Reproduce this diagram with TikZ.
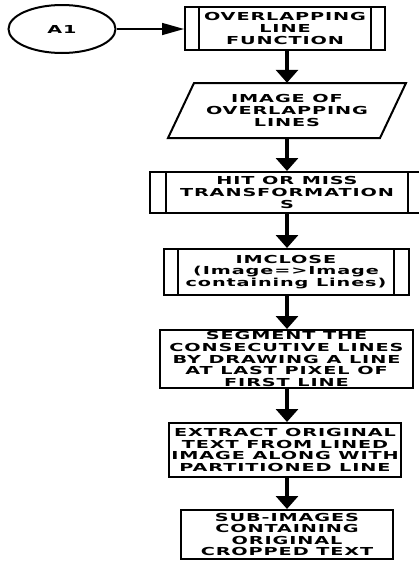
\documentclass[tikz,border=0pt]{standalone}
\usepackage{fontspec}
\newfontfamily\chartfont{DejaVu Sans}[FakeStretch=1.75,LetterSpace=8]
\usetikzlibrary{arrows.meta,shapes.geometric}
\tikzset{
  boxtext/.style={font=\chartfont\bfseries\fontsize{11}{11.6}\selectfont, align=center, inner sep=0pt},
  procbox/.style={boxtext, draw, line width=2pt, rectangle},
  subproc/.style={procbox},
  flow/.style={line width=4pt, -{Triangle[width=22pt,length=13pt]}},
  link/.style={line width=1.5pt, -{Triangle[width=12pt,length=22pt]}},
}
\newcommand{\subbars}[2]{%
  \draw[line width=2pt] ([xshift=#2]#1.north west) -- ([xshift=#2]#1.south west);
  \draw[line width=2pt] ([xshift=-#2]#1.north east) -- ([xshift=-#2]#1.south east);}
\begin{document}
\begin{tikzpicture}[x=1pt,y=-1pt]
\useasboundingbox (0,0) rectangle (419,563);
\clip (0,0) rectangle (419,563);
\fill[white] (0,0) rectangle (419,563);

% start connector
\node[boxtext, draw, ellipse, line width=2pt, minimum width=107pt, minimum height=48pt] (a1) at (62,29) {A1};

% overlapping line function (predefined process)
\node[subproc, minimum width=200pt, minimum height=43pt] (b1) at (285,28.5) {OVERLAPPING\\LINE\\FUNCTION};
\subbars{b1}{15pt}

% input/output: image of overlapping lines
\node[boxtext, minimum width=212pt, minimum height=55pt] (io) at (287,110.5) {IMAGE OF\\OVERLAPPING\\LINES};
\draw[line width=2pt, line join=miter] (194,83) -- (406,83) -- (380,138) -- (168,138) -- cycle;

% hit or miss
\node[subproc, minimum width=274pt, minimum height=41pt] (b3) at (287,192.5) {HIT OR MISS\\TRANSFORMATION\\S};
\subbars{b3}{17pt}

% imclose
\node[subproc, minimum width=245pt, minimum height=46pt] (b4) at (286,272) {IMCLOSE\\(Image=>Image\\containing Lines)};
\subbars{b4}{15.5pt}

\node[procbox, minimum width=253pt, minimum height=58pt] (b5) at (286.5,359) {SEGMENT THE\\CONSECUTIVE LINES\\BY DRAWING A LINE\\AT LAST PIXEL OF\\FIRST LINE};

\node[procbox, minimum width=232pt, minimum height=54pt] (b6) at (285,450) {EXTRACT ORIGINAL\\TEXT FROM LINED\\IMAGE ALONG WITH\\PARTITIONED LINE};

\node[procbox, minimum width=212pt, minimum height=49pt] (b7) at (287,534.5) {SUB-IMAGES\\CONTAINING\\ORIGINAL\\CROPPED TEXT};

% connectors
\draw[link] (a1.east) -- (b1.west |- a1.east);
\draw[flow] (b1.south -| io) -- (io.north);
\draw[flow] (io.south) -- (b3.north -| io);
\draw[flow] (b3.south -| io) -- (b4.north -| io);
\draw[flow] (b4.south -| io) -- (b5.north -| io);
\draw[flow] (b5.south -| io) -- (b6.north -| io);
\draw[flow] (b6.south -| io) -- (b7.north -| io);
\end{tikzpicture}
\end{document}
